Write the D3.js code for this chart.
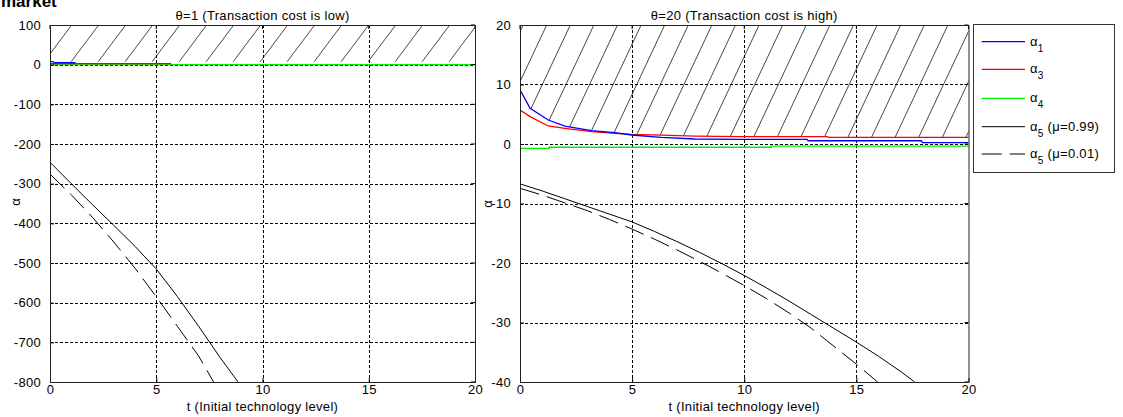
<!DOCTYPE html>
<html>
<head>
<meta charset="utf-8">
<script src="https://cdn.jsdelivr.net/npm/d3@7"></script>
<style>
  body { margin: 0; background: #fff; }
  svg { display: block; font-family: "Liberation Sans", Arial, sans-serif; }
</style>
</head>
<body>
<svg id="chart" width="1123" height="417"></svg>
<script>
// ---- tick labels ----
const tTicks = [0, 5, 10, 15, 20];
const lowYTicks = [100, 0, -100, -200, -300, -400, -500, -600, -700, -800];
const highYTicks = [20, 10, 0, -10, -20, -30, -40];

// ---- theta = 1 (low transaction cost) ----
const lowA1T = [0, 0.15, 0.2, 1.2];
const lowA1V = [7.6, 7.6, 5, 5];
const lowA3T = [0, 5.7];
const lowA3V = [2.5, 2.5];
const lowA4T = [0, 20];
const lowA4V = [0, 0];
const lowA5HiT = [0, 1, 2, 3, 4, 5, 6, 7, 8, 8.85];
const lowA5HiV = [-246, -300, -353, -405, -458, -515, -585, -660, -738, -800];
const lowA5LoT = [0, 1, 2, 3, 4, 5, 6, 7, 7.7];
const lowA5LoV = [-276, -328, -385, -447, -513, -585, -660, -735, -800];

// ---- theta = 20 (high transaction cost) ----
const highT = [0, 0.45, 1.26, 2, 3.19, 4.23, 4.97, 6.3, 7.8, 9.8, 12.8, 12.85, 13.7, 13.75, 17.9, 17.95, 20];
const highA1V = [9.1, 6.0, 4.03, 3.0, 2.24, 1.9, 1.51, 1.12, 0.84, 0.79, 0.79, 0.55, 0.55, 0.55, 0.55, 0.22, 0.22];
const highA3V = [5.7, 4.6, 3.03, 2.63, 2.07, 1.79, 1.62, 1.5, 1.34, 1.25, 1.24, 1.24, 1.23, 1.12, 1.12, 1.12, 1.12];
const highA4T = [0, 1.3, 1.3, 11.2, 11.2, 20];
const highA4V = [-0.75, -0.75, -0.55, -0.55, -0.35, -0.35];
const highA5HiT = [0, 1, 2, 3, 4, 5, 6, 7, 8, 9, 10, 11, 12, 13, 14, 15, 16, 17, 17.6];
const highA5HiV = [-6.7, -7.9, -9.2, -10.5, -11.8, -13.1, -14.7, -16.4, -18.2, -20.1, -22.1, -24.2, -26.4, -28.7, -31.0, -33.3, -35.7, -38.3, -40];
const highA5LoT = [0, 1, 2, 3, 4, 5, 6, 7, 8, 9, 10, 11, 12, 13, 14, 15, 15.95];
const highA5LoV = [-7.45, -8.6, -9.9, -11.2, -12.7, -14.3, -16.0, -17.8, -19.7, -21.7, -23.8, -26.0, -28.4, -31.0, -34.0, -37.0, -40];

// ---- legend ----
const legendSub = ["1", "3", "4", "5", "5"];
const legendNote = ["", "", "", " (\u03bc=0.99)", " (\u03bc=0.01)"];

const styles = {
  a1: { color: "#0000ff", width: 1.3, dash: null },
  a3: { color: "#ff0000", width: 1.3, dash: null },
  a4: { color: "#00ee00", width: 1.3, dash: null },
  a5hi: { color: "#000", width: 1, dash: null },
  a5lo: { color: "#000", width: 1, dash: "20,8" }
};
const legendStyles = [styles.a1, styles.a3, styles.a4, styles.a5hi, styles.a5lo];

const zip = (ts, vs) => ts.map((t, i) => ({ t, v: vs[i] }));
const lowCeil = d3.max(lowA1V.concat(lowA3V));

const panels = [
  {
    title: "\u03b8=1 (Transaction cost is low)",
    left: 50, right: 475, yDomain: [-800, 100], yTicks: lowYTicks,
    ylabelX: 20, ylabelY: 202,
    series: [
      { d: zip(lowA4T, lowA4V), s: styles.a4 },
      { d: zip(lowA3T, lowA3V), s: styles.a3 },
      { d: zip(lowA1T, lowA1V), s: styles.a1 },
      { d: zip(lowA5HiT, lowA5HiV), s: styles.a5hi },
      { d: zip(lowA5LoT, lowA5LoV), s: styles.a5lo }
    ],
    // hatched region sits above the upper envelope of the positive series
    envelope: [{ t: 0, v: lowCeil }, { t: 20, v: lowCeil }],
    hatch: { spacing: 27, slope: 0.75, phase: 71.7 }
  },
  {
    title: "\u03b8=20 (Transaction cost is high)",
    left: 520, right: 968.5, yDomain: [-40, 20], yTicks: highYTicks,
    ylabelX: 492, ylabelY: 204,
    series: [
      { d: zip(highA4T, highA4V), s: styles.a4 },
      { d: zip(highT, highA3V), s: styles.a3 },
      { d: zip(highT, highA1V), s: styles.a1 },
      { d: zip(highA5HiT, highA5HiV), s: styles.a5hi },
      { d: zip(highA5LoT, highA5LoV), s: styles.a5lo }
    ],
    envelope: highT.map((t, i) => ({ t, v: Math.max(highA1V[i], highA3V[i]) })),
    hatch: { spacing: 23.6, slope: 0.47, phase: 546.7 }
  }
];

const plotTop = 25, plotBottom = 382;
const svg = d3.select("#chart");

// heading of the figure, cut by the top edge
svg.append("text").attr("x", 1).attr("y", 7)
  .attr("font-size", 17).attr("font-weight", "bold").attr("fill", "#000")
  .text("market");

panels.forEach((p, pi) => {
  const x = d3.scaleLinear().domain([0, 20]).range([p.left, p.right]);
  const y = d3.scaleLinear().domain(p.yDomain).range([plotBottom, plotTop]);
  const g = svg.append("g");

  const clipId = "plot-clip-" + pi;
  g.append("clipPath").attr("id", clipId)
    .append("rect").attr("x", p.left).attr("y", plotTop)
    .attr("width", p.right - p.left).attr("height", plotBottom - plotTop);

  // hatched band
  const hatchId = "hatch-clip-" + pi;
  const hatchArea = d3.area().x(d => x(d.t)).y0(plotTop).y1(d => y(d.v));
  g.append("clipPath").attr("id", hatchId)
    .append("path").attr("d", hatchArea(p.envelope));
  const hg = g.append("g").attr("clip-path", `url(#${hatchId})`);
  const h = p.hatch;
  const span = plotBottom - plotTop;
  const startK = Math.floor((p.left - h.phase) / h.spacing) - 2;
  const endK = Math.ceil((p.right + h.slope * span - h.phase) / h.spacing) + 2;
  d3.range(startK, endK).forEach(k => {
    const xt = h.phase + k * h.spacing;
    hg.append("line")
      .attr("x1", xt).attr("y1", plotTop)
      .attr("x2", xt - h.slope * span).attr("y2", plotBottom)
      .attr("stroke", "#333").attr("stroke-width", 0.9);
  });

  // grid
  const grid = g.append("g").attr("stroke", "#000").attr("stroke-width", 1)
    .attr("stroke-dasharray", "3,2");
  tTicks.slice(1, -1).forEach(t => {
    grid.append("line").attr("x1", Math.round(x(t)) + 0.5).attr("x2", Math.round(x(t)) + 0.5)
      .attr("y1", plotTop).attr("y2", plotBottom);
  });
  p.yTicks.slice(1, -1).forEach(v => {
    grid.append("line").attr("y1", Math.round(y(v)) + 0.5).attr("y2", Math.round(y(v)) + 0.5)
      .attr("x1", p.left).attr("x2", p.right);
  });

  // series
  const line = d3.line().x(d => x(d.t)).y(d => y(d.v));
  const sg = g.append("g").attr("clip-path", `url(#${clipId})`);
  p.series.forEach(s => {
    sg.append("path").attr("d", line(s.d))
      .attr("fill", "none").attr("stroke", s.s.color)
      .attr("stroke-width", s.s.width)
      .attr("stroke-dasharray", s.s.dash);
  });

  // axes
  const xa = g.append("g").attr("transform", `translate(0,${plotBottom})`)
    .call(d3.axisBottom(x).tickValues(tTicks).tickFormat(d => String(d)).tickSize(-4).tickPadding(3));
  const ya = g.append("g").attr("transform", `translate(${p.left},0)`)
    .call(d3.axisLeft(y).tickValues(p.yTicks).tickFormat(d => String(d)).tickSize(-4).tickPadding(9));
  [xa, ya].forEach(a => {
    a.select(".domain").remove();
    a.selectAll("line").attr("stroke", "#000");
    a.selectAll("text").attr("font-size", 13).attr("fill", "#000")
      .attr("font-family", "'Liberation Sans', Arial, sans-serif")
      .style("letter-spacing", "0.3px");
  });
  // ticks on the opposite sides
  tTicks.forEach(t => {
    g.append("line").attr("x1", x(t)).attr("x2", x(t)).attr("y1", plotTop).attr("y2", plotTop + 4).attr("stroke", "#000");
  });
  p.yTicks.forEach(v => {
    g.append("line").attr("y1", y(v)).attr("y2", y(v)).attr("x1", p.right).attr("x2", p.right - 4).attr("stroke", "#000");
  });

  // box
  g.append("rect").attr("x", p.left + 0.5).attr("y", plotTop + 0.5)
    .attr("width", p.right - p.left).attr("height", plotBottom - plotTop)
    .attr("fill", "none").attr("stroke", "#222").attr("stroke-width", 1);

  // titles and labels
  g.append("text").attr("x", (p.left + p.right) / 2).attr("y", 20)
    .attr("text-anchor", "middle").attr("font-size", 13).style("letter-spacing", "0.3px")
    .text(p.title);
  g.append("text").attr("x", (p.left + p.right) / 2).attr("y", 411)
    .attr("text-anchor", "middle").attr("font-size", 13).style("letter-spacing", "0.3px")
    .text("t (Initial technology level)");
  g.append("text").attr("transform", `translate(${p.ylabelX},${p.ylabelY}) rotate(-90)`)
    .attr("text-anchor", "middle").attr("font-size", 13)
    .text("\u03b1");
});

// legend
const lg = svg.append("g");
lg.append("rect").attr("x", 973.5).attr("y", 24.5).attr("width", 141).attr("height", 148)
  .attr("fill", "#fff").attr("stroke", "#333").attr("stroke-width", 1);
const rowY = [41.7, 69.3, 98.3, 126.7, 154];
legendSub.forEach((sub, i) => {
  const st = legendStyles[i];
  lg.append("line").attr("x1", 981.7).attr("x2", 1025)
    .attr("y1", rowY[i]).attr("y2", rowY[i])
    .attr("stroke", st.color).attr("stroke-width", st.width)
    .attr("stroke-dasharray", st.dash);
  const t = lg.append("text").attr("x", 1030).attr("y", rowY[i] + 4)
    .attr("font-size", 13).style("letter-spacing", "0.3px");
  t.append("tspan").text("\u03b1");
  t.append("tspan").attr("dy", 6).attr("font-size", 10).text(sub);
  if (legendNote[i]) t.append("tspan").attr("dy", -6).text(legendNote[i]);
});
</script>
</body>
</html>
